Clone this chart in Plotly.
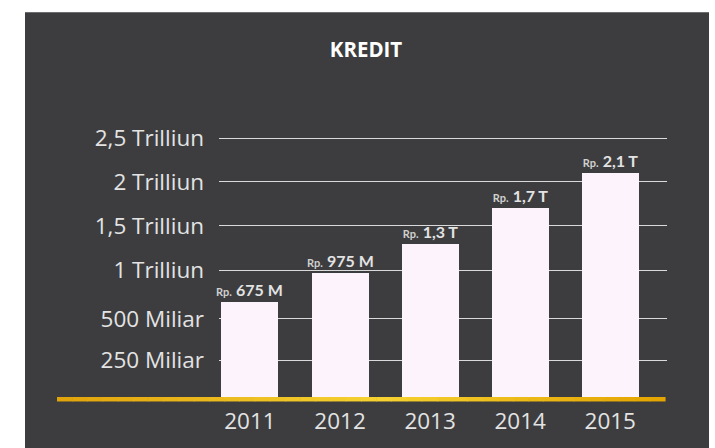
import numpy as np
import plotly.graph_objects as go

# ---------------- data ----------------
YEARS = ["2011", "2012", "2013", "2014", "2015"]
KREDIT_TRILLION = [0.675, 0.975, 1.3, 1.7, 2.1]
VALUE_LABELS = ["675 M", "975 M", "1,3 T", "1,7 T", "2,1 T"]
TICK_VALUES = [0.0, 0.25, 0.5, 1.0, 1.5, 2.0, 2.5]
TICK_LABELS = ["", "250 Miliar", "500 Miliar", "1 Trilliun", "1,5 Trilliun", "2 Trilliun", "2,5 Trilliun"]
TITLE = "KREDIT"

# ---------------- layout constants ----------------
W, H = 715, 448
PLOT_L, PLOT_R, PLOT_T, PLOT_B = 219, 667, 100, 403
PLOT_W, PLOT_H = PLOT_R - PLOT_L, PLOT_B - PLOT_T
# The original axis is not linear: each labelled value sits at its own step
AXIS_STOPS = [0, 39, 81.4, 130.4, 175.4, 220, 264.4]

BG = "#3D3D3F"
BAR = "#FDF3FD"
TXT = "#E3E3E3"


def scale(v):
    return np.interp(v, TICK_VALUES, AXIS_STOPS)


def px(x):
    return (x - PLOT_L) / PLOT_W


def py(y):
    return (PLOT_B - y) / PLOT_H


bar_heights = [float(scale(v)) for v in KREDIT_TRILLION]
tick_pos = [float(scale(v)) for v in TICK_VALUES]

texts = [
    f"<span style='font-size:11px;color:#D0D0D0'><b>Rp.</b></span> <b>{lab}</b>" for lab in VALUE_LABELS
]

fig = go.Figure()
fig.add_trace(
    go.Bar(
        x=YEARS,
        y=bar_heights,
        marker=dict(color=BAR, line=dict(width=0)),
        width=0.633,
        text=texts,
        textposition="outside",
        constraintext="none",
        textfont=dict(family="Lato", size=16, color=TXT),
        cliponaxis=False,
        hoverinfo="skip",
    )
)

shapes = [
    dict(
        type="rect", xref="paper", yref="paper", layer="below",
        x0=px(25), x1=px(709), y0=py(H + 5), y1=py(11),
        fillcolor=BG, line=dict(width=0),
    )
]

# gold base line with a soft gradient
def hex2rgb(h):
    h = h.lstrip("#")
    return np.array([int(h[i:i + 2], 16) for i in (0, 2, 4)], dtype=float)

stops_x = [57, 380, 665]
stops_c = [hex2rgb("#E2A30A"), hex2rgb("#F6D230"), hex2rgb("#E4A300")]
nseg = 40
edges = np.linspace(57, 665, nseg + 1)
for i in range(nseg):
    xm = (edges[i] + edges[i + 1]) / 2
    c = [np.interp(xm, stops_x, [s[k] for s in stops_c]) for k in range(3)]
    col = "rgb({:.0f},{:.0f},{:.0f})".format(*c)
    shapes.append(
        dict(
            type="rect", xref="paper", yref="paper", layer="above",
            x0=px(edges[i]), x1=px(edges[i + 1] + 0.6), y0=py(405.5), y1=py(401),
            fillcolor=col, line=dict(width=0),
        )
    )

fig.update_layout(
    width=W, height=H,
    margin=dict(l=PLOT_L, r=W - PLOT_R, t=PLOT_T, b=H - PLOT_B, pad=0),
    paper_bgcolor="white",
    plot_bgcolor="rgba(0,0,0,0)",
    showlegend=False,
    shapes=shapes,
    title=dict(
        text=f"<b>{TITLE}</b>",
        x=366 / W, xanchor="center", xref="container",
        y=1 - 50 / H, yanchor="middle", yref="container",
        font=dict(family="Open Sans", size=20.5, color="white"),
    ),
    xaxis=dict(
        type="category",
        range=[-0.344, 4.63],
        showgrid=False, zeroline=False, showline=False,
        ticks="",
        tickfont=dict(family="Open Sans", size=22.5, color=TXT),
        ticklabelstandoff=6,
        fixedrange=True,
    ),
    yaxis=dict(
        range=[0, PLOT_H],
        tickmode="array",
        tickvals=tick_pos[1:],
        ticktext=TICK_LABELS[1:],
        showgrid=True, gridcolor="#DADADA", gridwidth=1,
        zeroline=False, showline=False,
        ticks="",
        tickfont=dict(family="Open Sans", size=22.5, color=TXT),
        ticklabelstandoff=14,
        fixedrange=True,
    ),
    bargap=0,
)

fig.write_html(
    "out.html",
    config={"displayModeBar": False},
    post_script="document.body.style.margin='0';document.body.style.padding='0';",
)
